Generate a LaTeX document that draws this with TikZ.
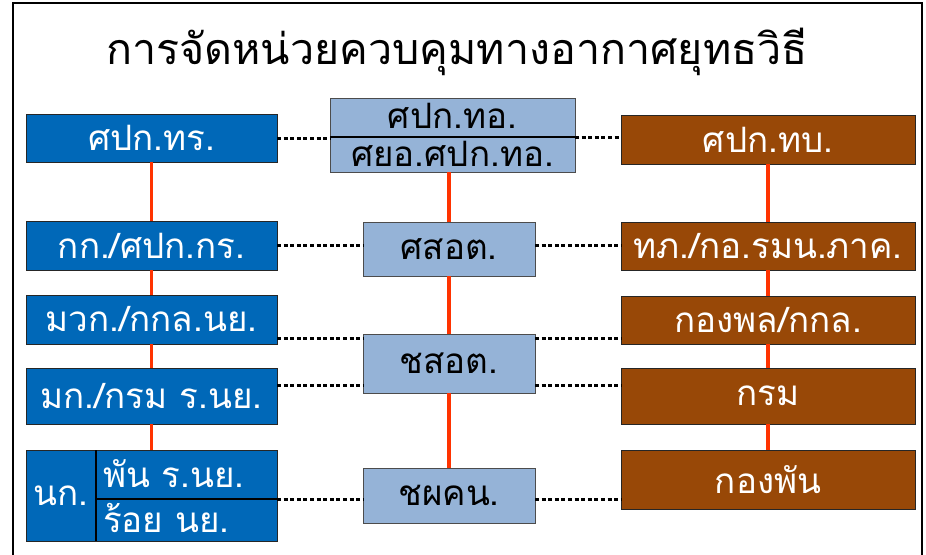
\documentclass[tikz,border=0pt]{standalone}
\usepackage{fontspec}
\newfontfamily\thai[Script=Thai]{Loma}
\definecolor{blueC}{HTML}{0068B8}
\definecolor{lightC}{HTML}{95B3D7}
\definecolor{brownC}{HTML}{984807}
\definecolor{redC}{HTML}{FF3300}
\begin{document}
\begin{tikzpicture}[x=1pt,y=-1pt,
  every node/.style={inner sep=0pt,outer sep=0pt},
  sz/.style 2 args={minimum width=#1,minimum height=#2},
  boxtext/.style={font=\thai\fontsize{35}{38}\selectfont},
  bluebox/.style={draw=black!85,line width=0.8pt,fill=blueC,text=white,boxtext},
  lightbox/.style={draw=black!70,line width=0.8pt,fill=lightC,text=black,boxtext},
  brownbox/.style={draw=black!85,line width=0.8pt,fill=brownC,text=white,boxtext},
  plain/.style={text=white,boxtext},
  redline/.style={draw=redC,line width=3.2pt},
  dotline/.style={draw=black,line width=3pt,dash pattern=on 4pt off 2.6pt},
  divline/.style={draw=black,line width=1.2pt},
  frame/.style={draw=black,line width=1.4pt}]
\useasboundingbox (0,0) rectangle (926,554);
\fill[white] (0,0) rectangle (926,554);
% frame
\draw[frame] (13,556) -- (13,3) -- (922,3) -- (922,556);
% title
\node[font=\thai\fontsize{43}{46}\selectfont] (title) at (457,52) {การจัดหน่วยควบคุมทางอากาศยุทธวิธี};
% left column
\node[bluebox,sz={251pt}{48pt}] (L1) at (151.5,138) {ศปก.ทร.};
\node[bluebox,sz={251pt}{49pt}] (L2) at (151.5,245.5) {กก./ศปก.กร.};
\node[bluebox,sz={251pt}{49pt}] (L3) at (151.5,319.5) {มวก./กกล.นย.};
\node[bluebox,sz={251pt}{56pt}] (L4) at (151.5,396) {มก./กรม ร.นย.};
\node[bluebox,sz={251pt}{91pt}] (L5) at (151.5,495.5) {};
% middle column
\node[lightbox,sz={245pt}{74pt}] (M1) at (452.5,135) {};
\node[lightbox,sz={172pt}{54pt}] (M2) at (449,249) {ศสอต.};
\node[lightbox,sz={172pt}{59pt}] (M3) at (449,363.5) {ชสอต.};
\node[lightbox,sz={172pt}{55pt}] (M4) at (449,495.5) {ชผคน.};
% right column
\node[brownbox,sz={294pt}{49pt}] (R1) at (768,139.5) {ศปก.ทบ.};
\node[brownbox,sz={294pt}{48pt}] (R2) at (768,246) {ทภ./กอ.รมน.ภาค.};
\node[brownbox,sz={294pt}{48pt}] (R3) at (768,320) {กองพล/กกล.};
\node[brownbox,sz={294pt}{56pt}] (R4) at (768,396) {กรม};
\node[brownbox,sz={294pt}{59pt}] (R5) at (768,479.5) {กองพัน};
% split cells
\draw[divline] ([xshift=70pt]L5.north west) -- ([xshift=70pt]L5.south west);
\draw[divline] ([xshift=70pt,yshift=-3.5pt]L5.west) -- ([yshift=-3.5pt]L5.east);
\node[plain] (L5a) at (61,496) {นก.};
\node[plain,anchor=west] (L5b) at (103,474) {พัน ร.นย.};
\node[plain,anchor=west] (L5c) at (103,518) {ร้อย นย.};
\draw[divline] ([yshift=-2pt]M1.west) -- ([yshift=-2pt]M1.east);
\node[text=black,boxtext] (M1a) at (452.5,116) {ศปก.ทอ.};
\node[text=black,boxtext] (M1b) at (452.5,154) {ศยอ.ศปก.ทอ.};
% red vertical lines
\draw[redline] (L1.south) -- (L2.north);
\draw[redline] (L2.south) -- (L3.north);
\draw[redline] (L3.south) -- (L4.north);
\draw[redline] (L4.south) -- (L5.north);
\draw[redline] (M2.north |- M1.south) -- (M2.north);
\draw[redline] (M2.south) -- (M3.north);
\draw[redline] (M3.south) -- (M4.north);
\draw[redline] (R1.south) -- (R2.north);
\draw[redline] (R2.south) -- (R3.north);
\draw[redline] (R3.south) -- (R4.north);
\draw[redline] (R4.south) -- (R5.north);
% dotted links
\draw[dotline] (L1.east) -- (L1.east -| M1.west);
\draw[dotline] ([yshift=-2pt]M1.east) -- ([yshift=-2pt]M1.east -| R1.west);
\draw[dotline] (L2.east) -- (L2.east -| M2.west);
\draw[dotline] (M2.east |- L2.east) -- (R2.west |- L2.east);
\draw[dotline] ([yshift=6pt]L3.south east) -- ([yshift=6pt]L3.south east -| M3.west);
\draw[dotline] ([yshift=6pt]L3.south east -| M3.east) -- ([yshift=6pt]L3.south east -| R3.west);
\draw[dotline] ([yshift=11pt]L4.east) -- ([yshift=11pt]L4.east -| M3.west);
\draw[dotline] ([yshift=11pt]L4.east -| M3.east) -- ([yshift=11pt]L4.east -| R4.west);
\draw[dotline] ([yshift=-3.5pt]L5.east) -- ([yshift=-3.5pt]L5.east -| M4.west);
\draw[dotline] ([yshift=-3.5pt]L5.east -| M4.east) -- ([yshift=-3.5pt]L5.east -| R5.west);
\end{tikzpicture}
\end{document}
